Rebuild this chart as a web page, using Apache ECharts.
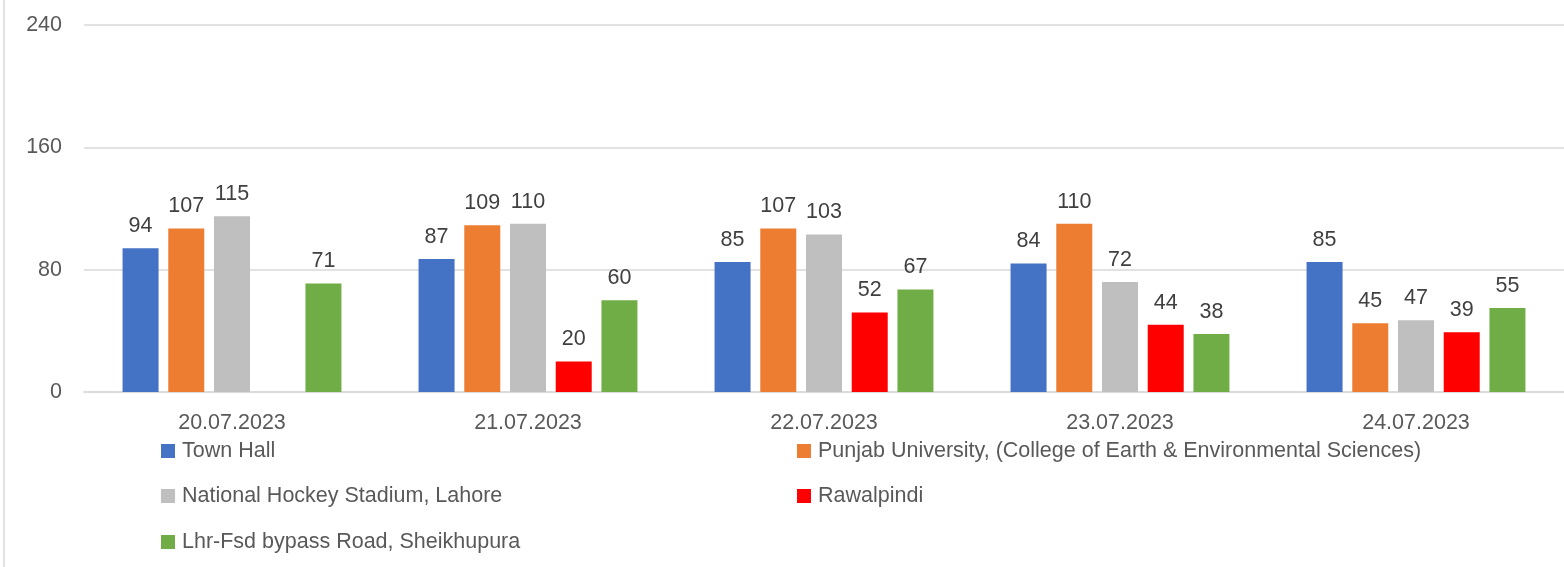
<!DOCTYPE html>
<html><head><meta charset="utf-8">
<script src="https://cdn.jsdelivr.net/npm/echarts@6/dist/echarts.min.js"></script>
<style>html,body{margin:0;padding:0;background:#fff}#c{width:1564px;height:567px}</style>
</head><body><div id="c"></div>
<script>
const categories = ['20.07.2023','21.07.2023','22.07.2023','23.07.2023','24.07.2023'];
const seriesNames = ['Town Hall','Punjab University, (College of Earth & Environmental Sciences)','National Hockey Stadium, Lahore','Rawalpindi','Lhr-Fsd bypass Road, Sheikhupura'];
const townHall = [94, 87, 85, 84, 85];
const punjabUniv = [107, 109, 107, 110, 45];
const hockeyStadium = [115, 110, 103, 72, 47];
const rawalpindi = [null, 20, 52, 44, 39];
const sheikhupura = [71, 60, 67, 38, 55];
const yTicks = [0, 80, 160, 240];
const colors = ['#4472C4','#ED7D31','#BFBFBF','#FF0000','#70AD47'];
const values = [townHall, punjabUniv, hockeyStadium, rawalpindi, sheikhupura];
const FONT = 'Liberation Sans';
const FS = 21.5;

const chart = echarts.init(document.getElementById('c'));
const legendPos = [[161,440],[797,440],[161,485],[797,485],[161,531]];
chart.setOption({
  animation:false,
  textStyle:{fontFamily:FONT},
  grid:{left:84,right:0,top:25,bottom:175},
  xAxis:{type:'category',data:categories,
    axisLine:{lineStyle:{color:'#D9D9D9',width:1.5}},axisTick:{show:false},
    axisLabel:{color:'#595959',fontSize:FS,margin:20,fontFamily:FONT}},
  yAxis:{type:'value',min:yTicks[0],max:yTicks[yTicks.length-1],interval:80,
    axisLine:{show:false},axisTick:{show:false},
    splitLine:{lineStyle:{color:'#D9D9D9',width:1.5}},
    axisLabel:{color:'#595959',fontSize:FS,margin:22,fontFamily:FONT}},
  legend: seriesNames.map((n,i)=>({data:[n],left:legendPos[i][0],top:legendPos[i][1],padding:0,icon:'rect',itemWidth:14,itemHeight:14,
    textStyle:{color:'#595959',fontSize:FS,fontFamily:FONT,padding:[0,0,0,2]},selectedMode:false})),
  graphic:[{type:'line',shape:{x1:4,y1:0,x2:4,y2:567},style:{stroke:'#D9D9D9',lineWidth:1.5}}],
  series: seriesNames.map((n,i)=>({name:n,type:'bar',data:values[i],barWidth:36,barGap:'27%',
    itemStyle:{color:colors[i]},
    label:{show:true,position:'top',distance:11,color:'#404040',fontSize:FS,fontFamily:FONT}}))
});
</script></body></html>
